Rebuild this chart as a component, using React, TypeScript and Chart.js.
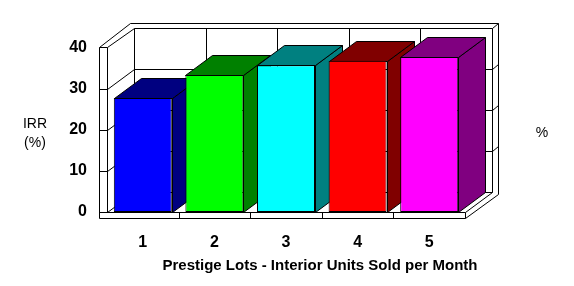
import React, { useEffect, useRef } from 'react';
import { Chart, registerables } from 'chart.js';

Chart.register(...registerables);

// ---- data ----
const categories = ['1', '2', '3', '4', '5'];
const irrValues = [27.8, 33.4, 35.8, 36.9, 37.8];
const yTickValues = [0, 10, 20, 30, 40];
const frontColors = ['#0000FF', '#00FF00', '#00FFFF', '#FF0000', '#FF00FF'];
const sideColors = ['#000080', '#008000', '#008080', '#800000', '#800080'];
const xTitle = 'Prestige Lots - Interior Units Sold per Month';
const yTitleLines = ['IRR', '(%)'];
const rightTitle = '%';

// ---- 3D look ----
const DX = 27;
const DY = -20;
const WALL = 8;
const FLOOR = 6;
const BACK = 6;
const FONT = '"Liberation Sans", Arial, sans-serif';

const px = (v: number) => Math.round(v) + 0.5;

const frame3d = {
  id: 'frame3d',
  beforeDatasetsDraw(chart: any) {
    const { ctx, chartArea, scales } = chart;
    const { left: L, right: R, top: T, bottom: B } = chartArea;
    const ys = scales.y;
    const xs = scales.x;
    ctx.save();
    ctx.strokeStyle = '#000';
    ctx.lineWidth = 1;
    const line = (x1: number, y1: number, x2: number, y2: number) => {
      ctx.beginPath();
      ctx.moveTo(px(x1), px(y1));
      ctx.lineTo(px(x2), px(y2));
      ctx.stroke();
    };
    const slope = DY / DX;
    // back wall inner face
    line(L + DX, T + DY, R + DX, T + DY);
    line(L + DX, T + DY, L + DX, B + DY);
    line(R + DX, T + DY, R + DX, B + DY);
    // back wall outer edges
    line(L + DX - 4, T + DY - 5, R + DX + BACK, T + DY - 5);
    line(R + DX, T + DY, R + DX + BACK, T + DY - 5);
    const brY = B + FLOOR + slope * (DX + BACK);
    line(R + DX + BACK, T + DY - 5, R + DX + BACK, brY);
    // left wall front face
    line(L - WALL, T - 1, L - WALL, B + FLOOR);
    line(L, T - 1, L, B);
    line(L - WALL, T - 1, L, T - 1);
    // left wall top diagonals
    line(L - WALL, T - 1, L + DX - 4, T + DY - 5);
    line(L, T - 1, L + DX, T + DY);
    // gridlines
    yTickValues.forEach((v) => {
      const yy = ys.getPixelForValue(v);
      if (v > ys.min && v < ys.max) {
        line(L - WALL, yy, L, yy);
        line(L, yy, L + DX, yy + DY);
        line(L + DX, yy + DY, R + DX, yy + DY);
        line(R + DX, yy + DY, R + DX + BACK, yy + DY - 5);
      }
    });
    // category boundaries
    for (let i = 1; i < categories.length; i++) {
      const xb = (xs.getPixelForValue(i - 1) + xs.getPixelForValue(i)) / 2;
      line(xb + DX, T + DY, xb + DX, B + DY);
      line(xb, B, xb, B + FLOOR);
    }
    // floor
    line(L - WALL, B, R, B);
    line(L - WALL, B + FLOOR, R, B + FLOOR);
    line(R, B, R, B + FLOOR);
    line(L, B, L + DX, B + DY);
    line(L + DX, B + DY, R + DX, B + DY);
    line(R, B, R + DX, B + DY);
    line(R, B + FLOOR, R + DX + BACK, brY);

    // bar sides and tops (fronts are drawn by the library afterwards)
    const meta = chart.getDatasetMeta(0);
    meta.data.forEach((el: any, i: number) => {
      const { x, y, base, width } = el.getProps(['x', 'y', 'base', 'width'], true);
      const l = x - width / 2;
      const r = x + width / 2;
      ctx.fillStyle = sideColors[i];
      ctx.beginPath();
      ctx.moveTo(px(r), px(base));
      ctx.lineTo(px(r + DX), px(base + DY));
      ctx.lineTo(px(r + DX), px(y + DY));
      ctx.lineTo(px(r), px(y));
      ctx.closePath();
      ctx.fill();
      ctx.stroke();
      ctx.beginPath();
      ctx.moveTo(px(l), px(y));
      ctx.lineTo(px(r), px(y));
      ctx.lineTo(px(r + DX), px(y + DY));
      ctx.lineTo(px(l + DX), px(y + DY));
      ctx.closePath();
      ctx.fill();
      ctx.stroke();
    });
    ctx.restore();
  },
  afterDraw(chart: any) {
    const { ctx } = chart;
    ctx.save();
    ctx.fillStyle = '#000';
    ctx.textAlign = 'center';
    ctx.textBaseline = 'middle';
    ctx.font = `14px ${FONT}`;
    ctx.fillText(yTitleLines[0], 35, 124);
    ctx.fillText(yTitleLines[1], 35, 143);
    ctx.fillText(rightTitle, 542, 133);
    ctx.font = `bold 15px ${FONT}`;
    ctx.fillText(xTitle, 320, 266);
    ctx.restore();
  },
};

export default function App() {
  const ref = useRef<HTMLCanvasElement | null>(null);
  useEffect(() => {
    if (!ref.current) return;
    const chart = new Chart(ref.current, {
      type: 'bar',
      data: {
        labels: categories,
        datasets: [
          {
            data: irrValues,
            backgroundColor: frontColors,
            borderColor: '#000',
            borderWidth: 1,
            borderSkipped: false,
            barPercentage: 0.81,
            categoryPercentage: 1,
          },
        ],
      },
      options: {
        responsive: false,
        animation: false,
        devicePixelRatio: 1,
        layout: { padding: { left: 0, top: 48, right: 109, bottom: 0 } },
        plugins: { legend: { display: false }, tooltip: { enabled: false }, title: { display: false } },
        scales: {
          x: {
            grid: { display: false, drawTicks: false },
            border: { display: false },
            ticks: { color: '#000', font: { family: FONT, size: 16, weight: 'bold' }, padding: 21, maxRotation: 0 },
            afterFit: (s: any) => {
              s.height = 74;
            },
          },
          y: {
            min: 0,
            max: 40,
            grid: { display: false, drawTicks: false },
            border: { display: false },
            ticks: { stepSize: 10, color: '#000', font: { family: FONT, size: 16, weight: 'bold' }, padding: 20 },
            afterFit: (s: any) => {
              s.width = 107;
            },
          },
        },
      },
      plugins: [frame3d],
    });
    return () => chart.destroy();
  }, []);
  return (
    <div style={{ position: 'absolute', left: 0, top: 0, width: 574, height: 286, background: '#fff' }}>
      <canvas ref={ref} width={574} height={286} style={{ display: 'block' }} />
    </div>
  );
}
